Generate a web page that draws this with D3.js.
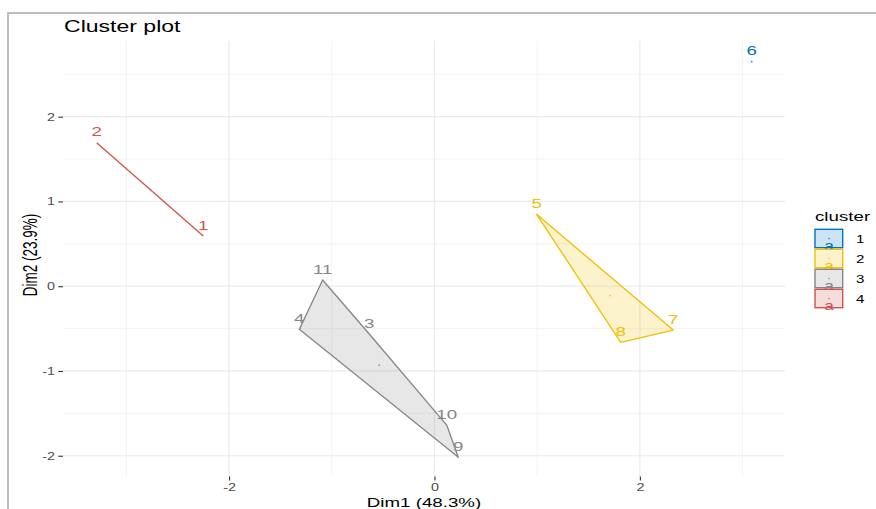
<!DOCTYPE html>
<html><head><meta charset="utf-8">
<script src="https://cdn.jsdelivr.net/npm/d3@7"></script>
<style>body{margin:0;background:#fff}svg{display:block;font-family:"Liberation Sans",Arial,sans-serif}</style>
</head><body><svg id="c" width="876" height="509"></svg>
<script>
// ---- data ----
const pointLabels = ["1","2","3","4","5","6","7","8","9","10","11"];
const dim1 = [-2.251,-3.289,-0.635,-1.316,0.995,3.089,2.325,1.813,0.232,0.119,-1.089];
const dim2 = [0.592,1.693,-0.564,-0.509,0.848,2.649,-0.517,-0.662,-2.019,-1.638,0.073];
const clusterOf = ["4","4","3","3","2","1","2","2","3","3","3"];
const clusterNames = ["1","2","3","4"];
const clusterColors = ["#0073C2","#EFC000","#868686","#CD534C"];
const xTicks = [-2,0,2];
const yTicks = [-2,-1,0,1,2];
const xMinor = [-3,-1,1,3];
const yMinor = [-1.5,-0.5,0.5,1.5,2.5];
const titleText = "Cluster plot";
const xTitle = "Dim1 (48.3%)";
const yTitle = "Dim2 (23.9%)";
const legendTitle = "cluster";

// ---- layout ----
const SX = 1.44; // horizontal stretch of text glyphs
const P = {l:63, r:785, t:41, b:476.5};
const svg = d3.select("#c");
const x = d3.scaleLinear().domain([-3.617, 3.413]).range([P.l, P.r]);
const y = d3.scaleLinear().domain([-2.245, 2.893]).range([P.b, P.t]);
const col = d3.scaleOrdinal().domain(clusterNames).range(clusterColors);

function txt(g, px, py, s, o) {
  o = o || {};
  return g.append("text")
    .attr("transform", `translate(${px},${py}) scale(${SX},1)` + (o.rot ? ` rotate(${o.rot})` : ""))
    .attr("font-size", o.size || 12)
    .attr("fill", o.fill || "#000")
    .attr("text-anchor", o.anchor || "start")
    .text(s);
}

// frame
svg.append("rect").attr("x",8).attr("y",13).attr("width",1000).attr("height",600)
  .attr("fill","none").attr("stroke","#bdbdbd").attr("stroke-width",2);

// grid
const grid = svg.append("g");
grid.selectAll(".vm").data(xMinor).join("line")
  .attr("x1",d=>x(d)).attr("x2",d=>x(d)).attr("y1",P.t).attr("y2",P.b)
  .attr("stroke","#ebebeb").attr("stroke-width",0.6);
grid.selectAll(".hm").data(yMinor).join("line")
  .attr("y1",d=>y(d)).attr("y2",d=>y(d)).attr("x1",P.l).attr("x2",P.r)
  .attr("stroke","#ebebeb").attr("stroke-width",0.6);
grid.selectAll(".vM").data(xTicks).join("line")
  .attr("x1",d=>x(d)).attr("x2",d=>x(d)).attr("y1",P.t).attr("y2",P.b)
  .attr("stroke","#ebebeb").attr("stroke-width",1.2);
grid.selectAll(".hM").data(yTicks).join("line")
  .attr("y1",d=>y(d)).attr("y2",d=>y(d)).attr("x1",P.l).attr("x2",P.r)
  .attr("stroke","#ebebeb").attr("stroke-width",1.2);

// clusters
const pts = pointLabels.map((lab,i)=>({lab, cl:clusterOf[i], px:x(dim1[i]), py:y(dim2[i]), d1:dim1[i], d2:dim2[i]}));
const groups = d3.group(pts, d=>d.cl);
const hullG = svg.append("g");
clusterNames.forEach(c=>{
  const g = groups.get(c); if (!g) return;
  const coords = g.map(d=>[d.px,d.py]);
  if (coords.length >= 3) {
    const h = d3.polygonHull(coords);
    hullG.append("path").attr("d","M"+h.join("L")+"Z")
      .attr("fill",col(c)).attr("fill-opacity",0.2)
      .attr("stroke",col(c)).attr("stroke-width",1.3).attr("stroke-linejoin","round");
  } else if (coords.length === 2) {
    hullG.append("path").attr("d","M"+coords.join("L"))
      .attr("fill","none").attr("stroke",col(c)).attr("stroke-width",1.3);
  }
  const cx = d3.mean(g,d=>d.d1), cy = d3.mean(g,d=>d.d2);
  hullG.append("circle").attr("cx",x(cx)).attr("cy",y(cy)).attr("r",0.9)
    .attr("fill",col(c)).attr("opacity",0.8);
});

// labels
const labG = svg.append("g");
pts.forEach(d=>{
  txt(labG, d.px, d.py-6.5, d.lab, {size:13, fill:col(d.cl), anchor:"middle"});
});

// axes
const fmt = d => String(d);
const xa = svg.append("g").attr("transform",`translate(0,${P.b})`)
  .call(d3.axisBottom(x).tickValues(xTicks).tickSize(4).tickFormat(fmt));
xa.select(".domain").remove();
xa.selectAll(".tick line").attr("stroke","#333").attr("stroke-width",1.1);
xa.selectAll(".tick text").attr("y",null).attr("dy",null)
  .attr("transform",`translate(0,14) scale(${SX},1)`)
  .attr("font-size",10).attr("fill","#4d4d4d").attr("font-family",null);

const ya = svg.append("g").attr("transform",`translate(${P.l},0)`)
  .call(d3.axisLeft(y).tickValues(yTicks).tickSize(4.7).tickFormat(fmt));
ya.select(".domain").remove();
ya.selectAll(".tick line").attr("stroke","#333").attr("stroke-width",1.1);
ya.selectAll(".tick text").attr("x",null).attr("dy",null)
  .attr("transform",`translate(-8,3.5) scale(${SX},1)`)
  .attr("font-size",10).attr("fill","#4d4d4d").attr("font-family",null);

// titles
txt(svg, 64, 32, titleText, {size:16});
txt(svg, (P.l+P.r)/2, 506.5, xTitle, {size:13, anchor:"middle"});
txt(svg, 36.5, 255, yTitle, {size:13.5, anchor:"middle", rot:-90});

// legend
const lg = svg.append("g");
txt(lg, 815, 220.7, legendTitle, {size:13});
clusterNames.forEach((c,i)=>{
  const ky = 229.3 + i*20;
  lg.append("rect").attr("x",815).attr("y",ky).attr("width",27.7).attr("height",18.4)
    .attr("fill",col(c)).attr("fill-opacity",0.2).attr("stroke",col(c)).attr("stroke-width",1.4);
  lg.append("circle").attr("cx",829).attr("cy",ky+9.2).attr("r",0.7).attr("fill",col(c));
  txt(lg, 829, ky+20.5, "a", {size:12, fill:col(c), anchor:"middle"});
  txt(lg, 856, ky+13.5, c, {size:10.5});
});
</script></body></html>
